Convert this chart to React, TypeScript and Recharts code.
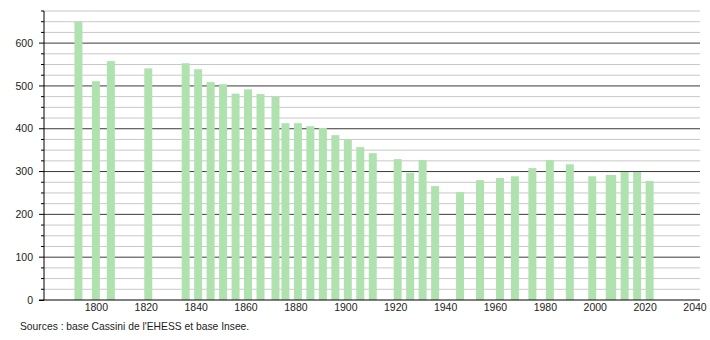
import { BarChart, Bar, XAxis, YAxis, CartesianGrid } from "recharts";

// census years and population
const years = [
    1793, 1800, 1806, 1821, 1836, 1841, 1846, 1851, 1856, 1861, 1866, 1872,
    1876, 1881, 1886, 1891, 1896, 1901, 1906, 1911, 1921, 1926, 1931, 1936,
    1946, 1954, 1962, 1968, 1975, 1982, 1990, 1999, 2006, 2007, 2012, 2017,
    2022,
];
const population = [
    650, 511, 558, 541, 553, 539, 509, 504, 482, 492, 481, 475,
    413, 413, 406, 402, 385, 375, 357, 343, 329, 297, 327, 266,
    252, 280, 285, 289, 308, 327, 317, 289, 292, 292, 299, 299,
    278,
];

const xTicks = [1800, 1820, 1840, 1860, 1880, 1900, 1920, 1940, 1960, 1980, 2000, 2020, 2040];
const yTicks = [0, 25, 50, 75, 100, 125, 150, 175, 200, 225, 250, 275, 300, 325, 350, 375, 400, 425, 450, 475, 500, 525, 550, 575, 600, 625, 650, 675];
const majorLines = [100, 200, 300, 400, 500, 600];
const minorLines = yTicks.filter((v) => v % 100 !== 0);

const data = years.map((year, i) => ({ year, pop: population[i] }));

const FONT = "'Liberation Sans', Arial, sans-serif";
const BAR_COLOR = "#b0e2b0";

// fixed-width bar centred on the year
const YearBar = (props: any) => {
    const { x, y, width, height } = props;
    if (height <= 0) return null;
    const cx = x + width / 2;
    return <rect x={cx - 4.5} y={y} width={8} height={height} fill={BAR_COLOR} />;
};

const YTick = (props: any) => {
    const { x, y, payload } = props;
    const major = payload.value % 100 === 0;
    return (
        <g>
            <line x1={x - (major ? 5 : 3)} x2={x} y1={y} y2={y} stroke="#000" />
            {major && payload.value <= 600 && (
                <text x={x - 11} y={y} dy="0.35em" textAnchor="end" fontSize={10.5} fill="#222" fontFamily={FONT}>
                    {payload.value}
                </text>
            )}
        </g>
    );
};

export default function App() {
    return (
        <div style={{ position: "absolute", left: 0, top: 0, width: 710, height: 340, background: "#fff" }}>
            <BarChart
                width={710}
                height={340}
                data={data}
                margin={{ top: 11, right: 10, left: 0, bottom: 0 }}
            >
                <CartesianGrid horizontal vertical={false} horizontalValues={minorLines} stroke="#c8c8c8" />
                <CartesianGrid horizontal vertical={false} horizontalValues={majorLines} stroke="#3a3a3a" />
                <XAxis
                    dataKey="year"
                    type="number"
                    domain={[1779, 2042]}
                    ticks={xTicks}
                    allowDataOverflow
                    height={40}
                    tickLine={false}
                    tickSize={0}
                    tickMargin={4}
                    axisLine={{ stroke: "#000" }}
                    tick={{ fontSize: 10.5, fill: "#222", fontFamily: FONT }}
                    interval={0}
                />
                <YAxis
                    type="number"
                    domain={[0, 675]}
                    ticks={yTicks}
                    allowDataOverflow
                    width={44}
                    tickLine={false}
                    tickSize={0}
                    tickMargin={0}
                    axisLine={{ stroke: "#000" }}
                    tick={<YTick />}
                    interval={0}
                />
                <Bar dataKey="pop" shape={<YearBar />} isAnimationActive={false} />
            </BarChart>
            {/* axis stub left of the y axis */}
            <div style={{ position: "absolute", left: 39, top: 299.5, width: 5, height: 1, background: "#000" }} />
            <div
                style={{
                    position: "absolute",
                    left: 20,
                    top: 321,
                    fontFamily: FONT,
                    fontSize: 10.3,
                    color: "#222",
                    whiteSpace: "nowrap",
                }}
            >
                Sources : base Cassini de l'EHESS et base Insee.
            </div>
        </div>
    );
}
